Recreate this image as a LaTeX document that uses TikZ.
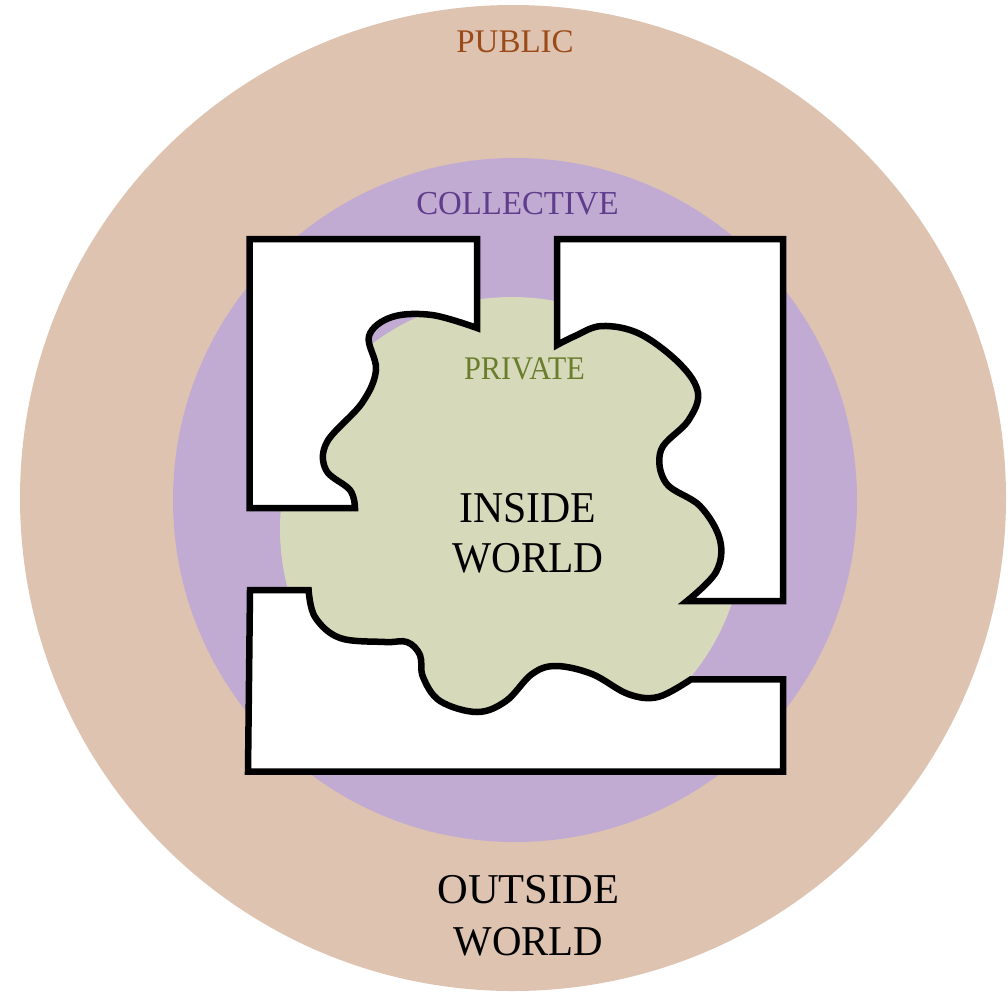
\documentclass[tikz,border=0pt]{standalone}
\usepackage{fontspec}
\setmainfont{Liberation Serif}
\usepackage{graphicx}
\definecolor{outerbg}{RGB}{222,195,177}
\definecolor{midbg}{RGB}{193,171,211}
\definecolor{innerbg}{RGB}{214,218,186}
\definecolor{pubtext}{RGB}{155,75,25}
\definecolor{coltext}{RGB}{95,60,140}
\definecolor{privtext}{RGB}{105,125,45}
\newcommand{\hsc}[2]{\scalebox{#1}[1]{#2}}
\begin{document}
\begin{tikzpicture}[x=1pt,y=-1pt,
  wall/.style={draw=black,fill=white,line width=6.5pt,line join=miter},
  lbl/.style={inner sep=0pt,align=center}]
\useasboundingbox (0,0) rectangle (1008,991);
% rings
\fill[outerbg] (513,498) circle (493);
\fill[midbg] (515,500) circle (342);
\fill[innerbg] (512,529) circle (232);
% top-left wall
\draw[wall] (249.5,239) -- (477,239) -- (477,328)
  -- plot[smooth,tension=0.6] coordinates {(477,328) (432,315) (392,317) (369,336) (376,370) (362,403) (327,442) (326,470) (350,490) (355,508)}
  -- (249.5,508) -- cycle;
% top-right wall
\draw[wall] (557,239) -- (783,239) -- (783,601) -- (687,601)
  -- plot[smooth,tension=0.6] coordinates {(687,601) (716,572) (720,540) (700,506) (666,483) (661,450) (688,421) (698,393) (680,364) (640,334) (602,326) (575,336) (557,345)}
  -- cycle;
% bottom wall
\draw[wall] (250,590) -- (308.6,590)
  -- plot[smooth,tension=0.6] coordinates {(308.6,590) (315,617) (340,638) (385,642) (407,642) (420,655) (423,677) (440,701) (477,712) (506,701) (532,674) (556,666) (592,674) (628,694) (658,697) (691,679.3)}
  -- (783,679.3) -- (783,771.7) -- (248,771.7) -- cycle;
% labels
\node[lbl,anchor=base,text=pubtext,font=\fontsize{33}{36}\selectfont] (public) at (515,52.7) {PUBLIC};
\node[lbl,anchor=base,text=coltext,font=\fontsize{33.5}{36}\selectfont] (collective) at (517.5,214.3) {\hsc{0.98}{COLLECTIVE}};
\node[lbl,anchor=base,text=privtext,font=\fontsize{33}{36}\selectfont] (private) at (524.5,379) {\hsc{0.92}{PRIVATE}};
\node[lbl,anchor=north,text=black,font=\fontsize{44}{50.6}\selectfont] (inside) at (528,492.7) {\hsc{0.95}{INSIDE}\\\hsc{0.94}{WORLD}};
\node[lbl,anchor=north,text=black,font=\fontsize{42.5}{51.7}\selectfont] (outside) at (528.5,875) {OUTSIDE\\\hsc{0.96}{WORLD}};
\end{tikzpicture}
\end{document}
